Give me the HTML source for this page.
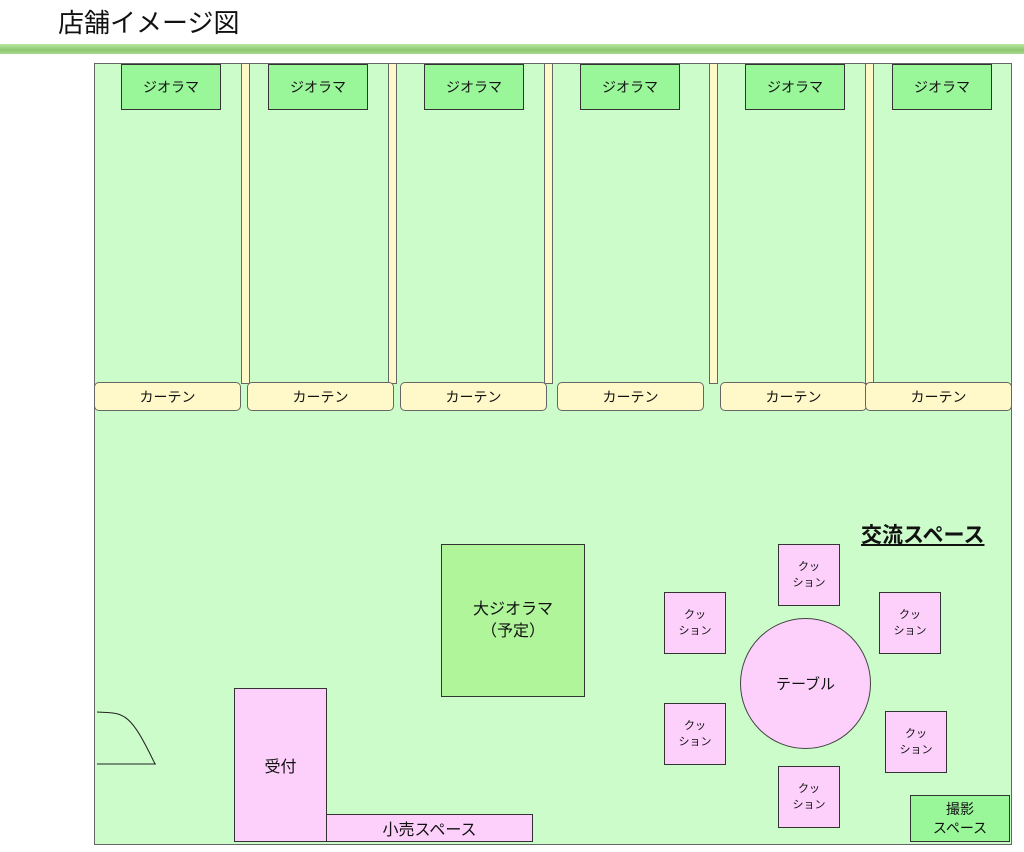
<!DOCTYPE html>
<html><head><meta charset="utf-8"><style>
body{margin:0;width:1024px;height:852px;background:#fff;position:relative;overflow:hidden;font-family:"Liberation Sans","Noto Sans CJK JP",sans-serif;}
.a{position:absolute;box-sizing:border-box;display:flex;align-items:center;justify-content:center;text-align:center;color:#111;}
.d{background:#99f79a;border:1px solid #333;font-size:14px;}
.p{background:#fff8c8;border:1px solid #666;}
.c{background:#fff8c8;border:1px solid #666;border-radius:5px;font-size:14px;}
.k{background:#fdd0fc;border:1px solid #333;font-size:11px;line-height:16px;}
</style></head><body>
<div style="position:absolute;left:58px;top:3px;font-size:26px;color:#111">店舗イメージ図</div>
<div style="position:absolute;left:0;top:44px;width:1024px;height:10px;background:linear-gradient(#b8e8a0,#8cc870 60%,#a8d890)"></div>
<div class="a" style="left:94px;top:63px;width:918px;height:782px;background:#ccfcca;border:1px solid #666"></div>
<div class="a d" style="left:121px;top:64px;width:100px;height:46px">ジオラマ</div>
<div class="a d" style="left:268px;top:64px;width:100px;height:46px">ジオラマ</div>
<div class="a d" style="left:424px;top:64px;width:100px;height:46px">ジオラマ</div>
<div class="a d" style="left:580px;top:64px;width:100px;height:46px">ジオラマ</div>
<div class="a d" style="left:745px;top:64px;width:100px;height:46px">ジオラマ</div>
<div class="a d" style="left:892px;top:64px;width:100px;height:46px">ジオラマ</div>
<div class="a p" style="left:241px;top:63px;width:9px;height:321px"></div>
<div class="a p" style="left:388px;top:63px;width:9px;height:321px"></div>
<div class="a p" style="left:544px;top:63px;width:9px;height:321px"></div>
<div class="a p" style="left:709px;top:63px;width:9px;height:321px"></div>
<div class="a p" style="left:865px;top:63px;width:9px;height:321px"></div>
<div class="a c" style="left:94px;top:382px;width:147px;height:29px">カーテン</div>
<div class="a c" style="left:247px;top:382px;width:147px;height:29px">カーテン</div>
<div class="a c" style="left:400px;top:382px;width:147px;height:29px">カーテン</div>
<div class="a c" style="left:557px;top:382px;width:147px;height:29px">カーテン</div>
<div class="a c" style="left:720px;top:382px;width:147px;height:29px">カーテン</div>
<div class="a c" style="left:865px;top:382px;width:147px;height:29px">カーテン</div>
<div class="a" style="left:441px;top:544px;width:144px;height:153px;background:#b0f59a;border:1px solid #333;font-size:16px;line-height:22px">大ジオラマ<br>（予定）</div>
<div class="a" style="left:234px;top:688px;width:93px;height:154px;background:#fdd0fc;border:1px solid #333;font-size:16px">受付</div>
<div class="a" style="left:326px;top:814px;width:207px;height:28px;background:#fdd0fc;border:1px solid #333;font-size:16px">小売スペース</div>
<svg style="position:absolute;left:0;top:0" width="1024" height="852"><path d="M97 712 C125 713 130 712 155 764 M97 764 L156 764" fill="none" stroke="#222" stroke-width="1"/></svg>
<div style="position:absolute;left:861px;top:519px;font-size:21px;font-weight:bold;text-decoration:underline;color:#111">交流スペース</div>
<div class="a k" style="left:778px;top:544px;width:62px;height:62px">クッ<br>ション</div>
<div class="a k" style="left:664px;top:592px;width:62px;height:62px">クッ<br>ション</div>
<div class="a k" style="left:879px;top:592px;width:62px;height:62px">クッ<br>ション</div>
<div class="a k" style="left:664px;top:703px;width:62px;height:62px">クッ<br>ション</div>
<div class="a k" style="left:885px;top:711px;width:62px;height:62px">クッ<br>ション</div>
<div class="a k" style="left:778px;top:766px;width:62px;height:62px">クッ<br>ション</div>
<div class="a" style="left:740px;top:618px;width:131px;height:131px;border-radius:50%;background:#fdd0fc;border:1px solid #444;font-size:15px">テーブル</div>
<div class="a d" style="left:910px;top:795px;width:100px;height:47px;font-size:14px;line-height:19px">撮影<br>スペース</div>
</body></html>
